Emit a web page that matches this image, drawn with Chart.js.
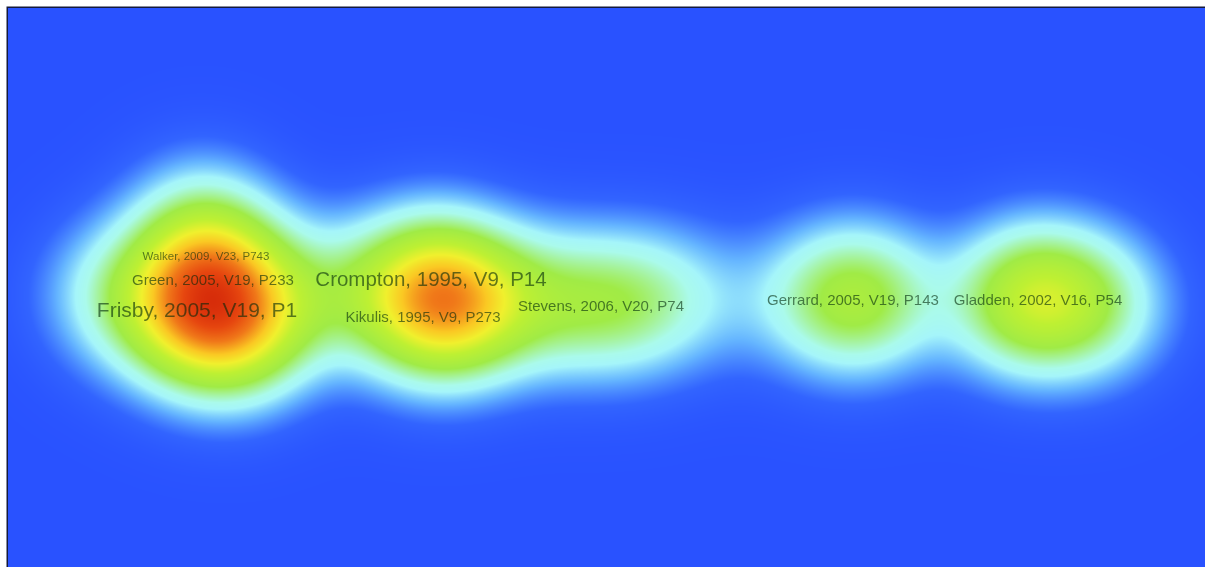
<!DOCTYPE html>
<html>
<head>
    <title>Density map</title>
    <meta charset="UTF-8">
    <script src="https://cdn.jsdelivr.net/npm/chart.js@4.4.0/dist/chart.umd.min.js"></script>
    <style>
        body { margin: 0; background: #fff; }
    </style>
</head>
<body>
    <canvas id="myChart" width="1205" height="567"></canvas>
    <script>
        // map items (label '' = item whose label is hidden)
        let itemLabels = ['Frisby, 2005, V19, P1', 'Green, 2005, V19, P233', 'Walker, 2009, V23, P743', '', '', '', '', '',
            'Crompton, 1995, V9, P14', 'Kikulis, 1995, V9, P273', '', '', '', 'Stevens, 2006, V20, P74', '', '',
            '', 'Gerrard, 2005, V19, P143', '',
            '', 'Gladden, 2002, V16, P54', ''];
        let itemX = [-0.818, -0.786, -0.800, -0.732, -0.852, -0.982, -0.632, -0.812,
            -0.350, -0.366, -0.288, -0.482, -0.152, -0.010, 0.108, 0.218,
            0.388, 0.494, 0.568,
            0.788, 0.864, 0.988];
        let itemY = [-0.044, 0.016, 0.064, -0.086, -0.086, -0.016, -0.016, 0.144,
            0.018, -0.058, -0.036, -0.006, -0.026, -0.036, -0.026, -0.026,
            -0.026, -0.024, -0.026,
            -0.032, -0.024, -0.036];
        let itemWeight = [0.45, 0.3, 0.3, 0.5, 0.15, 0.25, 0.2, 0.12,
            0.35, 0.3, 0.52, 0.2, 0.25, 0.3, 0.2, 0.06,
            0.12, 0.38, 0.12,
            0.14, 0.5, 0.28];
        let labelSize = [21, 15, 11.5, 0, 0, 0, 0, 0,
            20.5, 15, 0, 0, 0, 15, 0, 0,
            0, 15, 0,
            0, 15, 0];

        let kernelWidth = 0.1;

        // density colour scale: blue - pale cyan - green - yellow - red
        let colorStops = [
            [0.00, [41, 82, 255]],
            [0.04, [50, 100, 255]],
            [0.10, [100, 180, 255]],
            [0.16, [165, 245, 250]],
            [0.20, [170, 250, 235]],
            [0.32, [160, 235, 70]],
            [0.45, [190, 240, 50]],
            [0.55, [240, 240, 45]],
            [0.65, [250, 200, 35]],
            [0.78, [240, 120, 25]],
            [0.90, [230, 70, 15]],
            [1.00, [215, 45, 10]]
        ];

        function colorAt(v) {
            if (v <= 0) return colorStops[0][1];
            for (let i = 1; i < colorStops.length; i++) {
                if (v <= colorStops[i][0]) {
                    let a = colorStops[i - 1], b = colorStops[i];
                    let t = (v - a[0]) / (b[0] - a[0]);
                    return [a[1][0] + (b[1][0] - a[1][0]) * t,
                            a[1][1] + (b[1][1] - a[1][1]) * t,
                            a[1][2] + (b[1][2] - a[1][2]) * t];
                }
            }
            return colorStops[colorStops.length - 1][1];
        }

        const densityPlugin = {
            id: 'density',
            beforeDatasetsDraw(chart) {
                const ctx = chart.ctx;
                const area = chart.chartArea;
                const xs = chart.scales.x, ys = chart.scales.y;
                const w = Math.round(area.right - area.left);
                const h = Math.round(area.bottom - area.top);
                const colX = [], rowY = [];
                for (let i = 0; i < w; i++) colX.push(xs.getValueForPixel(area.left + i + 0.5));
                for (let j = 0; j < h; j++) rowY.push(ys.getValueForPixel(area.top + j + 0.5));
                const s2 = 2 * kernelWidth * kernelWidth;
                const dens = new Float32Array(w * h);
                let max = 0;
                for (let j = 0; j < h; j++) {
                    for (let i = 0; i < w; i++) {
                        let d = 0;
                        for (let k = 0; k < itemX.length; k++) {
                            const dx = colX[i] - itemX[k], dy = rowY[j] - itemY[k];
                            d += itemWeight[k] * Math.exp(-(dx * dx + dy * dy) / s2);
                        }
                        dens[j * w + i] = d;
                        if (d > max) max = d;
                    }
                }
                const img = ctx.createImageData(w, h);
                for (let p = 0; p < w * h; p++) {
                    const c = colorAt(dens[p] / max);
                    img.data[p * 4] = c[0];
                    img.data[p * 4 + 1] = c[1];
                    img.data[p * 4 + 2] = c[2];
                    img.data[p * 4 + 3] = 255;
                }
                ctx.putImageData(img, Math.round(area.left), Math.round(area.top));

                // frame on the left and top
                ctx.save();
                ctx.strokeStyle = '#141a3c';
                ctx.lineWidth = 1.5;
                ctx.beginPath();
                ctx.moveTo(area.left - 0.75, chart.height);
                ctx.lineTo(area.left - 0.75, area.top - 0.75);
                ctx.lineTo(chart.width, area.top - 0.75);
                ctx.stroke();
                ctx.restore();
            },
            afterDatasetsDraw(chart) {
                const ctx = chart.ctx;
                const xs = chart.scales.x, ys = chart.scales.y;
                ctx.save();
                ctx.textAlign = 'center';
                ctx.textBaseline = 'middle';
                ctx.fillStyle = 'rgba(0, 40, 10, 0.6)';
                for (let k = 0; k < itemLabels.length; k++) {
                    if (!itemLabels[k]) continue;
                    ctx.font = labelSize[k] + 'px "Liberation Sans", Arial, sans-serif';
                    ctx.fillText(itemLabels[k], xs.getPixelForValue(itemX[k]), ys.getPixelForValue(itemY[k]) + 2);
                }
                ctx.restore();
            }
        };

        const ctx = document.getElementById('myChart').getContext('2d');
        const myChart = new Chart(ctx, {
            type: 'scatter',
            data: {
                datasets: [{
                    label: 'items',
                    data: itemX.map((x, i) => ({x: x, y: itemY[i]})),
                    pointRadius: 0
                }]
            },
            options: {
                responsive: false,
                animation: false,
                layout: { padding: { left: 8, top: 8, right: 0, bottom: 0 } },
                plugins: { legend: { display: false }, tooltip: { enabled: false } },
                scales: {
                    x: { type: 'linear', display: false, min: -1.196, max: 1.198 },
                    y: { type: 'linear', display: false, min: -0.56, max: 0.558 }
                }
            },
            plugins: [densityPlugin]
        });
    </script>
</body>
</html>
